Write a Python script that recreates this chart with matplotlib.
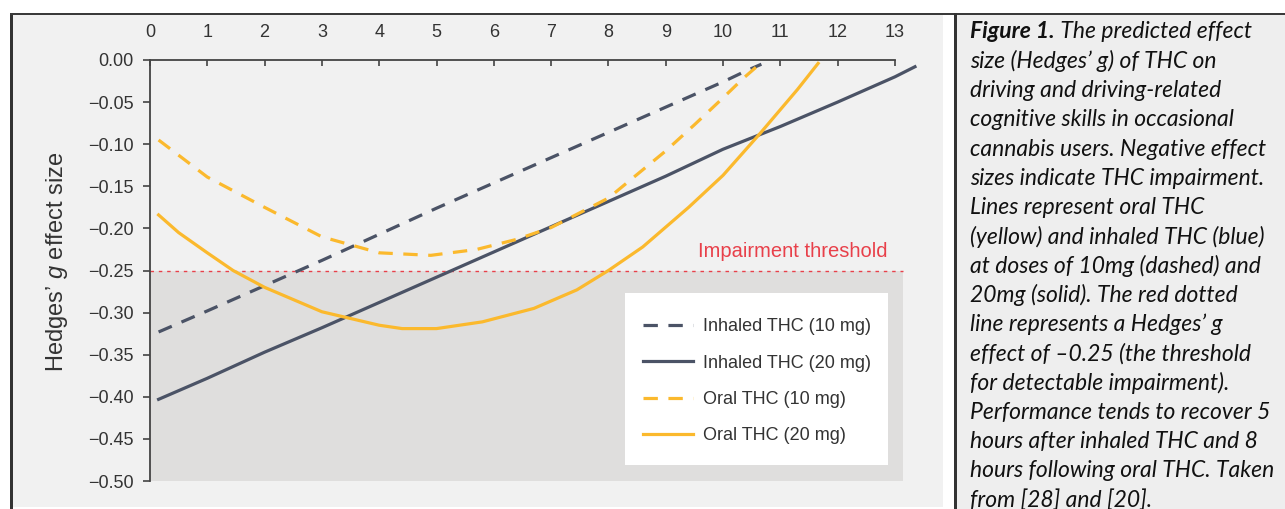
import numpy as np
import matplotlib.pyplot as plt
from matplotlib.patches import Rectangle

# hours after THC (x) and Hedges' g (y)
inh10_x = [0.15, 1, 2, 3, 4, 5, 6, 7, 8, 9, 10, 10.4, 10.67]
inh10_y = [-0.323, -0.298, -0.268, -0.238, -0.207, -0.176, -0.146, -0.116, -0.086, -0.056, -0.026, -0.013, -0.005]

inh20_x = [0.15, 1, 2, 3, 4, 5, 6, 7, 8, 9, 10, 11, 12, 13, 13.35]
inh20_y = [-0.403, -0.378, -0.347, -0.318, -0.288, -0.258, -0.228, -0.198, -0.168, -0.138, -0.106, -0.079, -0.050, -0.020, -0.008]

oral10_x = [0.15, 1.0, 2.0, 3.0, 4.0, 4.9, 5.7, 6.4, 7.0, 8.0, 9.0, 9.5, 10.0, 10.35, 10.62]
oral10_y = [-0.095, -0.139, -0.175, -0.210, -0.229, -0.232, -0.225, -0.213, -0.199, -0.164, -0.108, -0.077, -0.045, -0.022, -0.006]

oral20_x = [0.15, 0.5, 1.0, 1.45, 2.0, 3.0, 4.0, 4.4, 5.0, 5.8, 6.7, 7.45, 8.0, 8.6, 9.4, 10.0, 10.65, 11.3, 11.66]
oral20_y = [-0.184, -0.205, -0.229, -0.250, -0.270, -0.299, -0.315, -0.319, -0.319, -0.311, -0.295, -0.273, -0.250, -0.222, -0.175, -0.137, -0.087, -0.035, -0.004]

labels = ["Inhaled THC (10 mg)", "Inhaled THC (20 mg)", "Oral THC (10 mg)", "Oral THC (20 mg)"]
x_ticks = list(range(0, 14))
y_ticks = [0.0, -0.05, -0.10, -0.15, -0.20, -0.25, -0.30, -0.35, -0.40, -0.45, -0.50]
threshold = -0.25

caption = [
    "size (Hedges\u2019 g) of THC on",
    "driving and driving-related",
    "cognitive skills in occasional",
    "cannabis users. Negative effect",
    "sizes indicate THC impairment.",
    "Lines represent oral THC",
    "(yellow) and inhaled THC (blue)",
    "at doses of 10mg (dashed) and",
    "20mg (solid). The red dotted",
    "line represents a Hedges\u2019 g",
    "effect of \u20130.25 (the threshold",
    "for detectable impairment).",
    "Performance tends to recover 5",
    "hours after inhaled THC and 8",
    "hours following oral THC. Taken",
    "from [28] and [20].",
]

NAVY = "#4b5366"
YELLOW = "#fbb92d"
RED = "#e8404a"
TXT = "#333333"

plt.rcParams['font.family'] = ['Liberation Sans', 'DejaVu Sans']
plt.rcParams['mathtext.fontset'] = 'custom'
plt.rcParams['mathtext.it'] = 'Liberation Sans:italic'

W, H = 1285, 509
fig = plt.figure(figsize=(W / 100, H / 100), dpi=100)
fig.patch.set_facecolor("white")

def pxrect(x0, y0, w, h, **kw):
    # rectangle in pixel coords (origin top-left)
    return Rectangle((x0 / W, 1 - (y0 + h) / H), w / W, h / H,
                     transform=fig.transFigure, **kw)

for r_ in [pxrect(12, 15, 931, 492, facecolor="#f1f1f1", edgecolor="none", zorder=0),
           pxrect(957, 15, 328, 494, facecolor="#eeeeee", edgecolor="none", zorder=0),
           pxrect(10, 13, 3, 496, facecolor="#333333", edgecolor="none", zorder=1),
           pxrect(10, 13, 1275, 2, facecolor="#3a3a3a", edgecolor="none", zorder=1),
           pxrect(954, 13, 2.5, 496, facecolor="#333333", edgecolor="none", zorder=1)]:
    fig.add_artist(r_)

# axes placed so that x=0 -> 150px, x=13.5 -> 923.6px, y=0 -> 60px, y=-0.5 -> 481px
ax = fig.add_axes([150 / W, 1 - 481 / H, (13.5 * 57.3) / W, 421 / H])
ax.set_facecolor("none")
ax.set_xlim(0, 13.5)
ax.set_ylim(-0.5, 0)

ax.fill_between([0, 13.15], -0.5, threshold, color="#dfdedd", lw=0, zorder=1)
ax.plot([0, 13.15], [threshold, threshold], color=RED, lw=1.0, dashes=(2.5, 3.5), zorder=2)
ax.text(12.87, -0.234, "Impairment threshold", color=RED, fontsize=14.5, ha="right", va="baseline")

lw = 2.3
ax.plot(inh10_x, inh10_y, color=NAVY, lw=lw, dashes=(4.5, 3.3), label=labels[0], zorder=3)
ax.plot(inh20_x, inh20_y, color=NAVY, lw=lw, label=labels[1], zorder=3)
ax.plot(oral10_x, oral10_y, color=YELLOW, lw=lw, dashes=(4.5, 3.3), label=labels[2], zorder=3)
ax.plot(oral20_x, oral20_y, color=YELLOW, lw=lw, label=labels[3], zorder=3)

ax.xaxis.tick_top()
ax.set_xticks(x_ticks)
ax.set_yticks(y_ticks)
ax.set_yticklabels([f"{v:.2f}".replace("-", "\u2212") for v in y_ticks])
ax.tick_params(axis="x", direction="in", length=4, width=1.2, color="#444444",
               labelsize=13, labelcolor=TXT, pad=14)
ax.tick_params(axis="y", direction="out", length=5, width=1.2, color="#444444",
               labelsize=13, labelcolor=TXT, pad=7)
for s in ["right", "bottom"]:
    ax.spines[s].set_visible(False)
for s in ["top", "left"]:
    ax.spines[s].set_color("#444444")
    ax.spines[s].set_linewidth(1.3)
ax.spines["top"].set_bounds(0, 13)

fig.text(57 / W, 1 - 262 / H, "Hedges\u2019 $g$ effect size", rotation=90,
         fontsize=17, color=TXT, ha="center", va="center")

# white legend box (inside the axes so it sits under the legend), then the legend without a frame
ax.add_patch(pxrect(625, 293, 263, 172, facecolor="white", edgecolor="none",
                    zorder=4, clip_on=False))
leg = ax.legend(loc="upper left", bbox_to_anchor=(643 / W, 1 - 318 / H),
                bbox_transform=fig.transFigure, fontsize=13, frameon=False,
                handlelength=2.75, handletextpad=0.55, labelspacing=1.08,
                borderpad=0, borderaxespad=0)
leg.set_zorder(5)
for t in leg.get_texts():
    t.set_color(TXT)

# caption text
cap_font = ['Lato', 'DejaVu Sans']
cap_size = 16.5
x0 = 970 / W
y_first = 32
step = 29.25
fig.canvas.draw()
r = fig.canvas.get_renderer()
t1 = fig.text(x0, 1 - y_first / H, "Figure 1.", fontsize=cap_size, fontstyle="italic",
              fontweight="bold", family=cap_font, color="#111111", va="center")
bb = t1.get_window_extent(renderer=r)
fig.text(bb.x1 / W, 1 - y_first / H, " The predicted effect", fontsize=cap_size,
         fontstyle="italic", family=cap_font, color="#111111", va="center")
for i, line in enumerate(caption):
    fig.text(x0, 1 - (y_first + step * (i + 1)) / H, line, fontsize=cap_size,
             fontstyle="italic", family=cap_font, color="#111111", va="center")

fig.savefig("out.png", dpi=100)
